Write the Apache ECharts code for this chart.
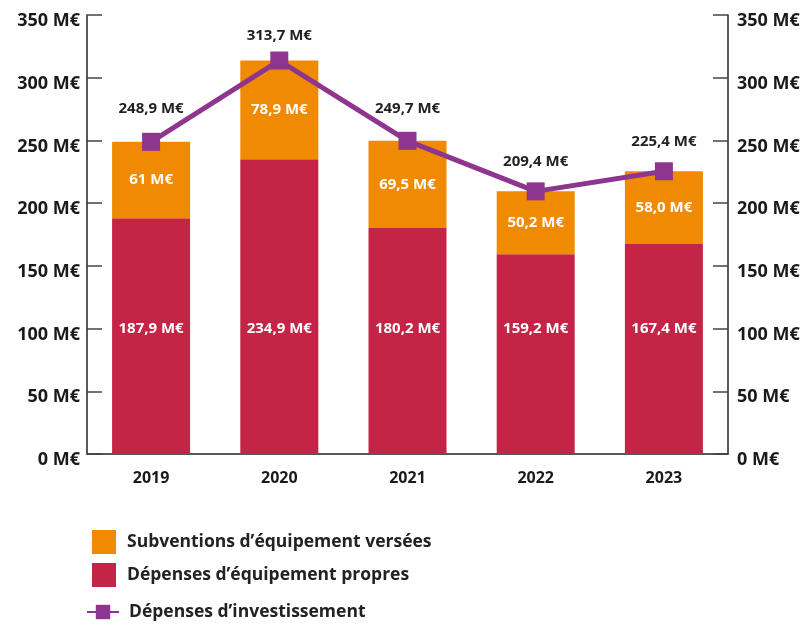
<!DOCTYPE html>
<html>
<head>
<meta charset="utf-8">
<script src="https://cdn.jsdelivr.net/npm/echarts@6/dist/echarts.min.js"></script>
<style>
html,body{margin:0;padding:0;background:#fff;}
#c{width:807px;height:625px;}
</style>
</head>
<body>
<div id="c"></div>
<script>
var categories = ['2019', '2020', '2021', '2022', '2023'];
var propres = [187.9, 234.9, 180.2, 159.2, 167.4];
var subventions = [61.0, 78.9, 69.5, 50.2, 58.0];
var investissement = [248.9, 313.7, 249.7, 209.4, 225.4];
var propresLabels = ['187,9 M€', '234,9 M€', '180,2 M€', '159,2 M€', '167,4 M€'];
var subventionsLabels = ['61 M€', '78,9 M€', '69,5 M€', '50,2 M€', '58,0 M€'];
var investLabels = ['248,9 M€', '313,7 M€', '249,7 M€', '209,4 M€', '225,4 M€'];
var yTicks = [0, 50, 100, 150, 200, 250, 300, 350];

var FONT = '"Open Sans", sans-serif';
var chart = echarts.init(document.getElementById('c'));

function yAxis(pos) {
  return {
    type: 'value', position: pos, min: 0, max: 350, interval: 50,
    axisLine: { show: true, lineStyle: { color: '#222', width: 1.5 } },
    axisTick: { show: true, inside: true, length: 15, lineStyle: { color: '#444', width: 1.5 } },
    splitLine: { show: false },
    axisLabel: {
      margin: pos === 'left' ? 7 : 9,
      verticalAlign: 'top', lineHeight: 12,
      color: '#1a1a1a', fontFamily: FONT, fontWeight: 'bold', fontSize: 18,
      formatter: function (v) { return yTicks.indexOf(v) >= 0 ? v + ' M€' : ''; }
    }
  };
}

var lineLabelDistance = [17, 8, 16, 13, 13];

chart.setOption({
  animation: false,
  grid: { left: 87, right: 79, top: 15, bottom: 171 },
  legend: [{
    orient: 'vertical', left: 92, top: 530, padding: 0, itemWidth: 24, itemHeight: 24, itemGap: 9,
    icon: 'rect',
    data: ['Subventions d’équipement versées', 'Dépenses d’équipement propres'],
    textStyle: { color: '#222', fontFamily: FONT, fontWeight: 'bold', fontSize: 17.5, padding: [0, 0, 0, 6] }
  }, {
    orient: 'vertical', left: 86, top: 603, padding: 0, itemWidth: 32, itemHeight: 18,
    data: ['Dépenses d’investissement'],
    textStyle: { color: '#222', fontFamily: FONT, fontWeight: 'bold', fontSize: 17.5, padding: [0, 0, 0, 5] }
  }],
  xAxis: {
    type: 'category', data: categories,
    axisLine: { show: true, lineStyle: { color: '#222', width: 1.5 } },
    axisTick: { show: false },
    axisLabel: { margin: 16, color: '#1a1a1a', fontFamily: FONT, fontWeight: 'bold', fontSize: 16 }
  },
  yAxis: [yAxis('left'), yAxis('right')],
  series: [{
    name: 'Dépenses d’équipement propres', type: 'bar', stack: 'a', barWidth: 78,
    data: propres,
    itemStyle: { color: '#c42445' },
    label: {
      show: true, position: 'insideBottom', distance: 118,
      color: '#fff', fontFamily: FONT, fontWeight: 'bold', fontSize: 15,
      formatter: function (p) { return propresLabels[p.dataIndex]; }
    }
  }, {
    name: 'Subventions d’équipement versées', type: 'bar', stack: 'a', barWidth: 78,
    data: subventions,
    itemStyle: { color: '#f08a00' },
    label: {
      show: true, position: 'inside',
      color: '#fff', fontFamily: FONT, fontWeight: 'bold', fontSize: 15,
      formatter: function (p) { return subventionsLabels[p.dataIndex]; }
    }
  }, {
    name: 'Dépenses d’investissement', type: 'line',
    data: investissement.map(function (v, i) {
      return { value: v, label: { distance: lineLabelDistance[i] } };
    }),
    symbol: 'rect', symbolSize: 18,
    lineStyle: { color: '#8e3590', width: 5 },
    itemStyle: { color: '#8e3590' },
    z: 5,
    label: {
      show: true, position: 'top',
      color: '#222', fontFamily: FONT, fontWeight: 'bold', fontSize: 15,
      formatter: function (p) { return investLabels[p.dataIndex]; }
    }
  }]
});
</script>
</body>
</html>
